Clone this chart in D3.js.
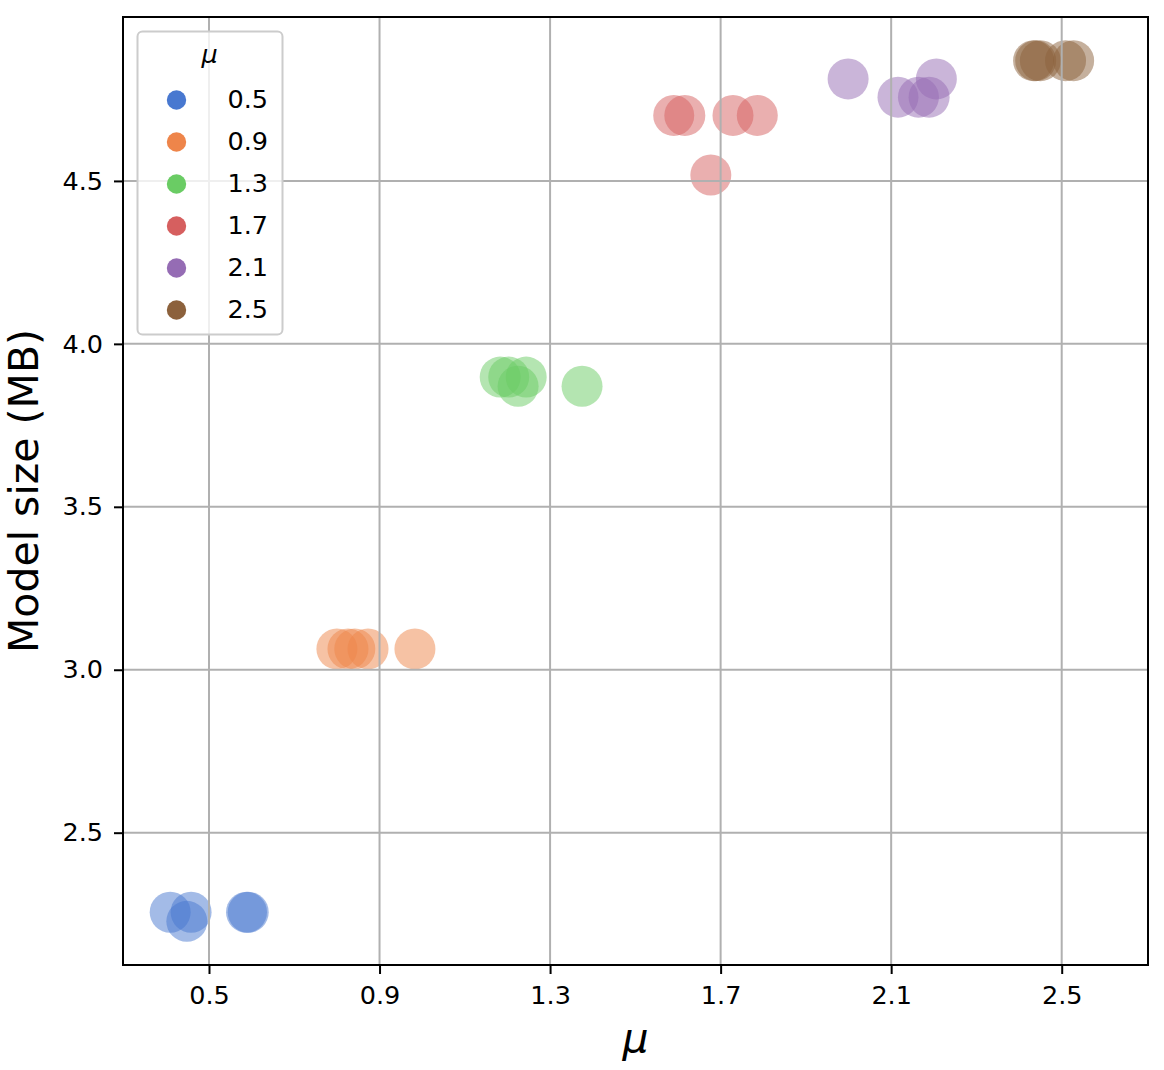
<!DOCTYPE html>
<html>
<head>
<meta charset="utf-8">
<script src="https://cdn.jsdelivr.net/npm/d3@7"></script>
<style>
  html, body { margin: 0; padding: 0; background: #fff; }
  text { font-family: "DejaVu Sans", sans-serif; }
</style>
</head>
<body>
<svg id="chart" width="1164" height="1070"></svg>
<script>
// ---- data ----
const groups = ["0.5", "0.9", "1.3", "1.7", "2.1", "2.5"];
const groupColors = ["#4878d0", "#ee854a", "#6acc64", "#d65f5f", "#956cb4", "#8c613c"];

const x05 = [0.409, 0.458, 0.448, 0.588, 0.592];
const y05 = [2.256, 2.256, 2.228, 2.256, 2.256];
const x09 = [0.800, 0.826, 0.842, 0.873, 0.983];
const y09 = [3.064, 3.064, 3.064, 3.064, 3.064];
const x13 = [1.183, 1.203, 1.244, 1.225, 1.375];
const y13 = [3.898, 3.898, 3.898, 3.870, 3.870];
const x17 = [1.590, 1.616, 1.729, 1.786, 1.677];
const y17 = [4.701, 4.701, 4.701, 4.701, 4.518];
const x21 = [1.999, 2.116, 2.164, 2.189, 2.206];
const y21 = [4.813, 4.757, 4.757, 4.757, 4.813];
const x25 = [2.434, 2.439, 2.450, 2.509, 2.528];
const y25 = [4.869, 4.869, 4.869, 4.869, 4.869];

const xTicks = [0.5, 0.9, 1.3, 1.7, 2.1, 2.5];
const yTicks = [2.5, 3.0, 3.5, 4.0, 4.5];
const xLabel = "μ";
const yLabel = "Model size (MB)";
const legendTitle = "μ";

const seriesX = [x05, x09, x13, x17, x21, x25];
const seriesY = [y05, y09, y13, y17, y21, y25];
const points = [];
groups.forEach((g, gi) => {
  seriesX[gi].forEach((xv, i) => points.push({ g: gi, x: xv, y: seriesY[gi][i] }));
});

// ---- layout ----
const svg = d3.select("#chart");
const L = 123, T = 17, R = 1148, B = 965;
const x = d3.scaleLinear().domain([0.2983, 2.7024]).range([L, R]);
const y = d3.scaleLinear().domain([2.094, 5.003]).range([B, T]);

const tickFont = 25.5;

// points
svg.append("g").selectAll("circle").data(points).join("circle")
  .attr("cx", d => x(d.x))
  .attr("cy", d => y(d.y))
  .attr("r", 20.5)
  .attr("fill", d => groupColors[d.g])
  .attr("fill-opacity", 0.5);

// grid (drawn above points, like matplotlib default)
const grid = svg.append("g");
grid.selectAll("line.gx").data(xTicks).join("line")
  .attr("x1", d => x(d)).attr("x2", d => x(d))
  .attr("y1", T).attr("y2", B)
  .attr("stroke", "#b0b0b0").attr("stroke-width", 2);
grid.selectAll("line.gy").data(yTicks).join("line")
  .attr("y1", d => y(d)).attr("y2", d => y(d))
  .attr("x1", L).attr("x2", R)
  .attr("stroke", "#b0b0b0").attr("stroke-width", 2);

// axes
const xAxis = d3.axisBottom(x).tickValues(xTicks).tickFormat(d3.format(".1f")).tickSize(9).tickPadding(12);
const yAxis = d3.axisLeft(y).tickValues(yTicks).tickFormat(d3.format(".1f")).tickSize(9).tickPadding(11);

const gx = svg.append("g").attr("transform", `translate(0,${B})`).call(xAxis);
const gy = svg.append("g").attr("transform", `translate(${L},0)`).call(yAxis);
[gx, gy].forEach(g => {
  g.select(".domain").remove();
  g.selectAll(".tick line").attr("stroke", "#000").attr("stroke-width", 2);
  g.selectAll(".tick text").attr("fill", "#000")
    .style("font-family", "DejaVu Sans").style("font-size", tickFont + "px");
});

// frame
svg.append("rect").attr("x", L).attr("y", T).attr("width", R - L).attr("height", B - T)
  .attr("fill", "none").attr("stroke", "#000").attr("stroke-width", 2);

// axis labels
svg.append("text").attr("x", (L + R) / 2).attr("y", 1052)
  .attr("text-anchor", "middle").style("font-size", "41px").style("font-style", "italic")
  .text(xLabel);
svg.append("text").attr("transform", `translate(38,${(T + B) / 2}) rotate(-90)`)
  .attr("text-anchor", "middle").style("font-size", "41px")
  .text(yLabel);

// legend
const lg = svg.append("g");
lg.append("rect").attr("x", 137.5).attr("y", 31.5).attr("width", 145).attr("height", 303)
  .attr("rx", 5).attr("fill", "#fff").attr("fill-opacity", 0.8)
  .attr("stroke", "#cccccc").attr("stroke-width", 2);
lg.append("text").attr("x", 209.5).attr("y", 63).attr("text-anchor", "middle")
  .style("font-size", tickFont + "px").style("font-style", "italic").text(legendTitle);
const items = lg.selectAll("g.item").data(groups).join("g")
  .attr("transform", (d, i) => `translate(0,${100 + i * 42})`);
items.append("circle").attr("cx", 176.5).attr("cy", 0).attr("r", 9.7)
  .attr("fill", (d, i) => groupColors[i]);
items.append("text").attr("x", 227.5).attr("y", 7.5)
  .style("font-size", tickFont + "px").text(d => d);
</script>
</body>
</html>
